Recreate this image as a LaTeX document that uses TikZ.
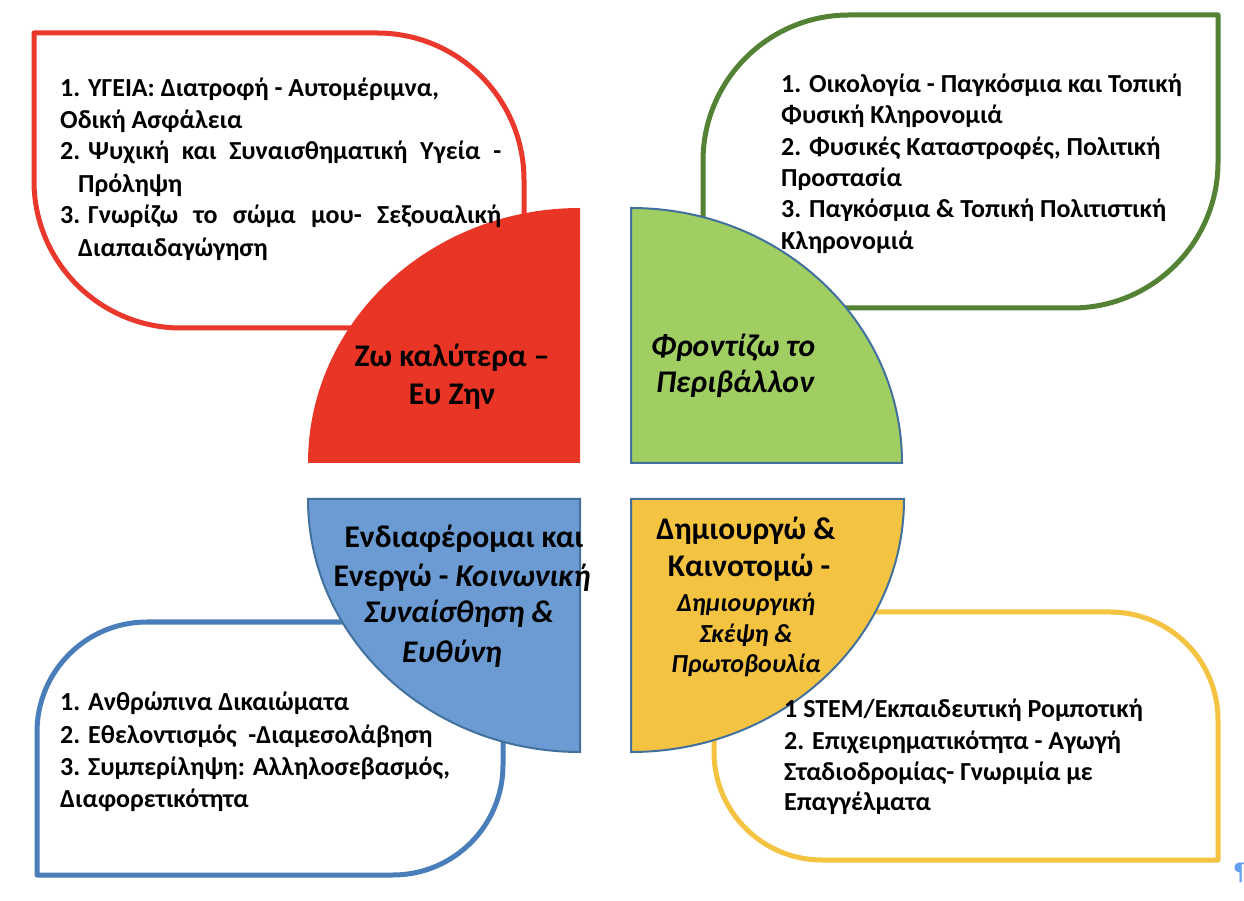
\documentclass[tikz,border=0pt]{standalone}
\usepackage{fontspec}
\setmainfont{Carlito}
\newfontfamily\djv{DejaVu Sans}
\definecolor{rline}{RGB}{234,57,44}
\definecolor{rfill}{RGB}{233,53,37}
\definecolor{gline}{RGB}{84,130,53}
\definecolor{gfill}{RGB}{160,206,99}
\definecolor{bline}{RGB}{74,126,187}
\definecolor{bfill}{RGB}{107,155,210}
\definecolor{yline}{RGB}{245,195,66}
\definecolor{yfill}{RGB}{245,195,66}
\definecolor{qline}{RGB}{65,113,156}
\definecolor{pil}{RGB}{100,160,240}
\begin{document}
\begin{tikzpicture}[x=1pt,y=1pt,
  box/.style={line width=5pt, fill=white, line join=round},
  quarter/.style={draw=qline, line width=2pt},
  itm/.style={anchor=base west, inner sep=0pt, font=\fontsize{26}{30}\selectfont\bfseries},
  ttl/.style={anchor=base, inner sep=0pt, font=\fontsize{31.5}{36}\selectfont\bfseries},
  ittl/.style={ttl, font=\fontsize{31.5}{36}\selectfont\bfseries\itshape},
  sttl/.style={anchor=base, inner sep=0pt, font=\fontsize{26}{30}\selectfont\bfseries\itshape}]
\fill[white] (0,0) rectangle (1244,900);
\useasboundingbox (0,0) rectangle (1244,900);

% outlined boxes
\draw[box, draw=rline] (34,867) -- (377,867) arc[start angle=90, end angle=0, radius=147]
  -- (524,572) -- (181,572) arc[start angle=270, end angle=180, radius=147] -- cycle;
\draw[box, draw=gline] (1218,885) -- (1218,738) arc[start angle=0, end angle=-90, radius=146]
  -- (703,592) -- (703,739) arc[start angle=180, end angle=90, radius=146] -- cycle;
\draw[box, draw=bline] (37,25) -- (37,168) arc[start angle=180, end angle=90, radius=110]
  -- (503,278) -- (503,135) arc[start angle=0, end angle=-90, radius=110] -- cycle;
\draw[box, draw=yline] (714,288) -- (1110,288) arc[start angle=90, end angle=0, radius=108]
  -- (1218,40) -- (822,40) arc[start angle=270, end angle=180, radius=108] -- cycle;

% quarters
\fill[rfill] (580,437) -- (308,437) arc[start angle=180, end angle=90, x radius=272, y radius=255] -- cycle;
\draw[quarter, fill=gfill] (631,437) -- (902,437) arc[start angle=0, end angle=90, x radius=271, y radius=255] -- cycle;
\draw[quarter, fill=bfill] (580,401) -- (308,401) arc[start angle=180, end angle=270, x radius=272, y radius=253] -- cycle;
\draw[quarter, fill=yfill] (631,401) -- (904,401) arc[start angle=0, end angle=-90, x radius=273, y radius=253] -- cycle;

% red box text
\node[itm] (r1) at (60,803) {1. ΥΓΕΙΑ: Διατροφή - Αυτομέριμνα,};
\node[itm] (r2) at (60,771) {Οδική Ασφάλεια};
\node[itm] (r3) at (60,740) {\makebox[441pt][s]{\mbox{2. Ψυχική} και Συναισθηματική Υγεία -}};
\node[itm] (r4) at (78,707) {Πρόληψη};
\node[itm] (r5) at (60,676) {\makebox[441pt][s]{\mbox{3. Γνωρίζω} το σώμα μου- Σεξουαλική}};
\node[itm] (r6) at (78,643) {Διαπαιδαγώγηση};

% green box text
\node[itm] (g1) at (781,807) {1. Οικολογία - Παγκόσμια και Τοπική};
\node[itm] (g2) at (781,776) {Φυσική Κληρονομιά};
\node[itm] (g3) at (781,744) {2. Φυσικές Καταστροφές, Πολιτική};
\node[itm] (g4) at (781,713) {Προστασία};
\node[itm] (g5) at (781,682) {3. Παγκόσμια \& Τοπική Πολιτιστική};
\node[itm] (g6) at (781,650) {Κληρονομιά};

% blue box text
\node[itm] (b1) at (60,190) {1. Ανθρώπινα Δικαιώματα};
\node[itm] (b2) at (60,157) {2. Εθελοντισμός~ -Διαμεσολάβηση};
\node[itm] (b3) at (60,125) {3. Συμπερίληψη: Αλληλοσεβασμός,};
\node[itm] (b4) at (60,93) {Διαφορετικότητα};

% yellow box text
\node[itm] (y1) at (784,183) {1 STEM/Εκπαιδευτική Ρομποτική};
\node[itm] (y2) at (784,151) {2. Επιχειρηματικότητα - Αγωγή};
\node[itm] (y3) at (784,120) {Σταδιοδρομίας- Γνωριμία με};
\node[itm] (y4) at (784,90) {Επαγγέλματα};

% quarter titles
\node[ttl] (rt1) at (452,533) {Ζω καλύτερα –};
\node[ttl] (rt2) at (452,495) {Ευ Ζην};
\node[ittl] (gt1) at (733,543) {Φροντίζω το};
\node[ittl] (gt2) at (735,507) {Περιβάλλον};
\node[ttl] (bt1) at (464,352) {Ενδιαφέρομαι και};
\node[ttl] (bt2) at (462,313) {Ενεργώ - \textit{Κοινωνική}};
\node[ittl] (bt3) at (459,277) {Συναίσθηση \&};
\node[ittl] (bt4) at (452,238) {Ευθύνη};
\node[ttl] (yt1) at (746,360) {Δημιουργώ \&};
\node[ttl] (yt2) at (749,323) {Καινοτομώ -};
\node[sttl] (yt3) at (746,288) {Δημιουργική};
\node[sttl] (yt4) at (746,258) {Σκέψη \&};
\node[sttl] (yt5) at (746,228) {Πρωτοβουλία};

% pilcrow mark
\node[anchor=base west, inner sep=0pt, text=pil, font=\djv\fontsize{24}{28}\selectfont\bfseries] (pm) at (1233,20) {¶};
\end{tikzpicture}
\end{document}
